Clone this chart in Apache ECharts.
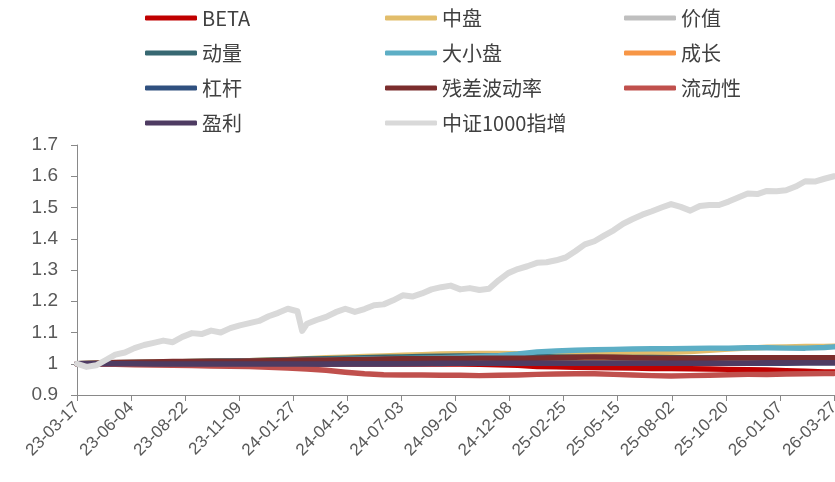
<!DOCTYPE html>
<html>
<head>
<meta charset="utf-8">
<script src="https://cdn.jsdelivr.net/npm/echarts@6/dist/echarts.min.js"></script>
<style>
html,body{margin:0;padding:0;background:#fff;}
#chart{width:835px;height:482px;}
</style>
</head>
<body>
<div id="chart"></div>
<script>
// ---- data ----
const startDate = '2023-03-17';
const tickStepDays = 79;
const yTicks = [0.9, 1.7, 0.1]; // min, max, step

const idxDates = [
'2023-03-17','2023-03-31','2023-04-14','2023-04-28','2023-05-12','2023-05-26','2023-06-09','2023-06-23','2023-07-07','2023-07-21',
'2023-08-04','2023-08-18','2023-09-01','2023-09-15','2023-09-29','2023-10-13','2023-10-27','2023-11-10','2023-11-24','2023-12-08',
'2023-12-22','2024-01-05','2024-01-19','2024-02-02','2024-02-09','2024-02-16','2024-03-01','2024-03-15','2024-03-29','2024-04-12',
'2024-04-26','2024-05-10','2024-05-24','2024-06-07','2024-06-21','2024-07-05','2024-07-19','2024-08-02','2024-08-16','2024-08-30',
'2024-09-13','2024-09-27','2024-10-11','2024-10-25','2024-11-08','2024-11-22','2024-12-06','2024-12-20','2025-01-03','2025-01-17',
'2025-01-31','2025-02-14','2025-02-28','2025-03-14','2025-03-28','2025-04-11','2025-04-25','2025-05-09','2025-05-23','2025-06-06',
'2025-06-20','2025-07-04','2025-07-18','2025-08-01','2025-08-15','2025-08-29','2025-09-12','2025-09-26','2025-10-10','2025-10-24',
'2025-11-07','2025-11-21','2025-12-05','2025-12-19','2026-01-02','2026-01-16','2026-01-30','2026-02-13','2026-02-27','2026-03-13',
'2026-03-27'];
const idx1000 = [
1.000,0.990,0.995,1.012,1.029,1.036,1.050,1.060,1.067,1.074,
1.069,1.086,1.098,1.095,1.106,1.100,1.114,1.123,1.130,1.137,
1.152,1.163,1.176,1.168,1.105,1.128,1.140,1.150,1.165,1.176,
1.166,1.175,1.187,1.190,1.203,1.219,1.215,1.225,1.238,1.245,
1.250,1.238,1.242,1.236,1.240,1.267,1.290,1.303,1.312,1.323,
1.325,1.331,1.340,1.360,1.382,1.392,1.410,1.427,1.448,1.463,
1.477,1.488,1.500,1.511,1.502,1.490,1.505,1.508,1.508,1.519,
1.532,1.545,1.543,1.553,1.552,1.555,1.567,1.584,1.583,1.592,
1.600];

const factorDates = [
'2023-03-17','2023-04-14','2023-05-12','2023-06-09','2023-07-07','2023-08-04','2023-09-01','2023-09-29','2023-10-27','2023-11-24',
'2023-12-22','2024-01-19','2024-02-16','2024-03-15','2024-04-12','2024-05-10','2024-06-07','2024-07-05','2024-08-02','2024-08-30',
'2024-09-27','2024-10-25','2024-11-22','2024-12-20','2025-01-17','2025-02-14','2025-03-14','2025-04-11','2025-05-09','2025-06-06',
'2025-07-04','2025-08-01','2025-08-29','2025-09-26','2025-10-24','2025-11-21','2025-12-19','2026-01-16','2026-02-13','2026-03-13',
'2026-03-27'];
const beta = [1.000,1.000,1.000,1.000,0.999,0.999,0.999,0.999,0.999,0.999, 0.999,0.999,0.999,0.999,0.999,0.999,0.999,0.999,0.999,0.999, 0.999,0.998,0.997,0.995,0.991,0.990,0.989,0.988,0.987,0.986, 0.985,0.985,0.984,0.983,0.982,0.981,0.980,0.978,0.976,0.974, 0.974];
const midCap = [1.000,1.002,1.003,1.004,1.005,1.006,1.007,1.008,1.009,1.010, 1.012,1.014,1.016,1.019,1.021,1.023,1.025,1.027,1.029,1.031, 1.032,1.033,1.033,1.032,1.032,1.033,1.034,1.035,1.035,1.036, 1.036,1.037,1.039,1.043,1.047,1.050,1.053,1.054,1.055,1.055, 1.056];
const valueF = [1.000,1.001,1.002,1.002,1.003,1.003,1.004,1.004,1.005,1.005, 1.005,1.006,1.006,1.006,1.007,1.007,1.007,1.008,1.008,1.008, 1.008,1.009,1.009,1.009,1.009,1.010,1.010,1.010,1.010,1.010, 1.010,1.010,1.010,1.010,1.010,1.010,1.010,1.010,1.010,1.010, 1.010];
const momentum = [1.000,1.002,1.003,1.004,1.005,1.006,1.007,1.008,1.009,1.010, 1.011,1.013,1.015,1.016,1.018,1.019,1.021,1.022,1.023,1.024, 1.025,1.025,1.025,1.024,1.023,1.022,1.021,1.020,1.020,1.020, 1.020,1.019,1.019,1.019,1.019,1.019,1.019,1.019,1.019,1.019, 1.019];
const size = [1.000,1.001,1.002,1.003,1.004,1.005,1.006,1.007,1.008,1.009, 1.010,1.011,1.012,1.013,1.014,1.015,1.016,1.017,1.018,1.019, 1.021,1.023,1.026,1.031,1.038,1.041,1.043,1.045,1.046,1.047, 1.048,1.048,1.049,1.050,1.050,1.051,1.051,1.050,1.050,1.052, 1.054];
const growth = [1.000,1.001,1.002,1.003,1.004,1.005,1.005,1.006,1.006,1.007, 1.008,1.008,1.009,1.010,1.010,1.011,1.011,1.012,1.012,1.012, 1.013,1.013,1.013,1.013,1.013,1.013,1.013,1.013,1.013,1.013, 1.013,1.013,1.013,1.013,1.013,1.013,1.013,1.013,1.013,1.013, 1.013];
const leverage = [1.000,1.000,1.000,1.000,1.000,1.000,1.000,1.000,1.000,1.000, 1.000,1.000,1.000,1.000,1.000,1.000,1.000,1.001,1.001,1.001, 1.002,1.002,1.002,1.002,1.002,1.002,1.002,1.002,1.002,1.002, 1.002,1.002,1.002,1.002,1.002,1.002,1.002,1.002,1.003,1.003, 1.003];
const resVol = [1.000,1.002,1.004,1.005,1.006,1.007,1.007,1.008,1.008,1.009, 1.010,1.011,1.012,1.012,1.013,1.014,1.015,1.016,1.016,1.017, 1.017,1.018,1.018,1.018,1.018,1.019,1.021,1.022,1.021,1.019, 1.018,1.018,1.018,1.018,1.019,1.019,1.019,1.019,1.019,1.019, 1.019];
const liquidity = [1.000,0.999,0.998,0.997,0.996,0.995,0.994,0.993,0.992,0.991, 0.989,0.986,0.983,0.979,0.973,0.968,0.965,0.964,0.964,0.963, 0.963,0.962,0.963,0.964,0.966,0.967,0.968,0.968,0.966,0.964, 0.962,0.961,0.962,0.963,0.965,0.966,0.966,0.967,0.968,0.969, 0.969];
const profit = [1.000,1.000,1.000,1.000,0.999,0.999,0.999,0.999,0.999,0.999, 0.999,0.999,0.999,0.999,1.000,1.000,1.000,1.000,1.001,1.002, 1.002,1.002,1.002,1.002,1.002,1.002,1.002,1.002,1.002,1.002, 1.002,1.002,1.002,1.002,1.002,1.002,1.003,1.003,1.003,1.003, 1.003];

const seriesDefs = [
  ['BETA', beta, '#C00000'],
  ['中盘', midCap, '#E2BD6B'],
  ['价值', valueF, '#BFBFBF'],
  ['动量', momentum, '#376872'],
  ['大小盘', size, '#5DAEC5'],
  ['成长', growth, '#F79646'],
  ['杠杆', leverage, '#30507F'],
  ['残差波动率', resVol, '#7B2D2D'],
  ['流动性', liquidity, '#C0504D'],
  ['盈利', profit, '#4E3B62']
];
const legendCols = [
  ['BETA','动量','杠杆','盈利'],
  ['中盘','大小盘','残差波动率','中证1000指增'],
  ['价值','成长','流动性']
];

// ---- helpers ----
const DAY = 86400000;
function ts(s){ const p = s.split('-').map(Number); return Date.UTC(p[0], p[1]-1, p[2]); }
const t0 = ts(startDate);
function off(s){ return Math.round((ts(s) - t0) / DAY); }
function fmt(v){
  const d = new Date(t0 + Math.round(v) * DAY);
  const yy = String(d.getUTCFullYear()).slice(2);
  const mm = String(d.getUTCMonth()+1).padStart(2,'0');
  const dd = String(d.getUTCDate()).padStart(2,'0');
  return yy + '-' + mm + '-' + dd;
}
const xMax = off(idxDates[idxDates.length-1]);

const series = seriesDefs.map(([name, vals, color]) => ({
  name, type:'line', showSymbol:false, symbol:'none', smooth:false,
  data: vals.map((v,i) => [off(factorDates[i]), v]),
  lineStyle:{ color, width:5.5, cap:'round', join:'round' },
  itemStyle:{ color },
  z: 2
}));
series.push({
  name:'中证1000指增', type:'line', showSymbol:false, symbol:'none',
  data: idx1000.map((v,i) => [off(idxDates[i]), v]),
  lineStyle:{ color:'#D9D9D9', width:6, cap:'round', join:'round' },
  itemStyle:{ color:'#D9D9D9' },
  z: 3
});

const legendBase = {
  orient:'vertical', icon:'roundRect', itemWidth:52, itemHeight:5, itemGap:13,
  textStyle:{ fontFamily:'"Noto Sans CJK SC", sans-serif', fontSize:20, color:'#404040', lineHeight:22 },
  selectedMode:false
};
const legendLefts = [140, 380, 619];
const legend = legendCols.map((d,i) => Object.assign({}, legendBase, { data:d, left:legendLefts[i], top:2 }));

const chart = echarts.init(document.getElementById('chart'), null, {renderer:'canvas'});
chart.setOption({
  animation:false,
  backgroundColor:'#ffffff',
  legend,
  grid:{ left:77, right:1, top:145, bottom:87, containLabel:false, outerBoundsMode:'none' },
  xAxis:{
    type:'value', min:0, max:xMax, interval:tickStepDays,
    axisLine:{ show:true, lineStyle:{ color:'#898989', width:1 } },
    axisTick:{ show:true, inside:false, length:6, lineStyle:{ color:'#898989' } },
    splitLine:{ show:false },
    axisLabel:{ rotate:45, formatter:fmt, color:'#595959', fontSize:17, fontFamily:'"Liberation Sans", Arial, sans-serif', margin:10, showMinLabel:true, showMaxLabel:true }
  },
  yAxis:{
    type:'value', min:yTicks[0], max:yTicks[1], interval:yTicks[2],
    axisLine:{ show:true, lineStyle:{ color:'#898989', width:1 } },
    axisTick:{ show:true, inside:false, length:6, lineStyle:{ color:'#898989' } },
    splitLine:{ show:false },
    axisLabel:{ formatter:v => String(Math.round(v*10)/10), color:'#595959', fontSize:19, fontFamily:'"Liberation Sans", Arial, sans-serif', margin:19 }
  },
  series
});
</script>
</body>
</html>
